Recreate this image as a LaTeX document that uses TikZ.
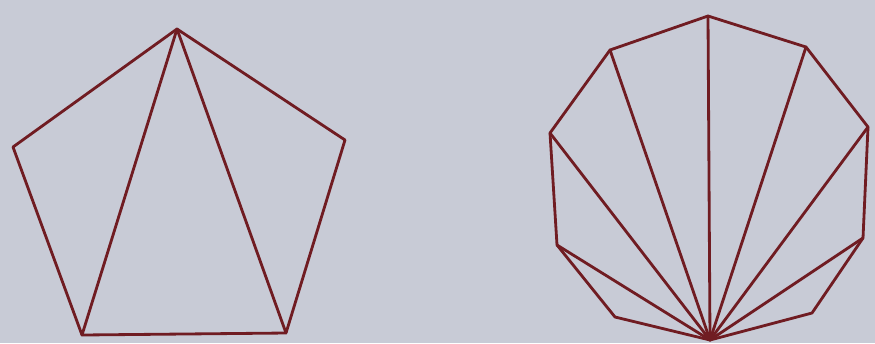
\documentclass[tikz,border=0pt]{standalone}
\usetikzlibrary{backgrounds}
\definecolor{paper}{RGB}{200,203,214}
\definecolor{ink}{RGB}{112,28,34}
\begin{document}
\begin{tikzpicture}[x=0.02cm, y=-0.02cm, edge/.style={draw=ink, line width=1.6pt, line join=round, line cap=round}]
  \fill[paper] (0,0) rectangle (875,343);
  \useasboundingbox (0,0) rectangle (875,343);
  % pentagon
  \coordinate (pT) at (177,29);
  \coordinate (pL) at (13,147);
  \coordinate (pBL) at (82,335);
  \coordinate (pBR) at (286,333);
  \coordinate (pR) at (345,140);
  \draw[edge] (pT) -- (pL) -- (pBL) -- (pBR) -- (pR) -- cycle;
  \draw[edge] (pT) -- (pBL);
  \draw[edge] (pT) -- (pBR);
  % decagon
  \coordinate (d0) at (710,340);
  \coordinate (d1) at (615,317);
  \coordinate (d2) at (557,245);
  \coordinate (d3) at (550,133);
  \coordinate (d4) at (610,50);
  \coordinate (d5) at (708,16);
  \coordinate (d6) at (806,47);
  \coordinate (d7) at (868,127);
  \coordinate (d8) at (863,238);
  \coordinate (d9) at (812,313);
  \draw[edge] (d0) -- (d1) -- (d2) -- (d3) -- (d4) -- (d5) -- (d6) -- (d7) -- (d8) -- (d9) -- cycle;
  \foreach \i in {2,...,8}
    \draw[edge] (d0) -- (d\i);
\end{tikzpicture}
\end{document}
